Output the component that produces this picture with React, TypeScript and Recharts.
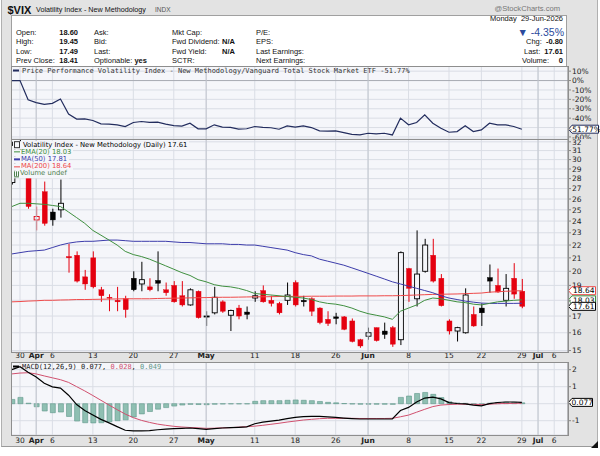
import React from 'react';
import { ComposedChart, Bar, Line, XAxis, YAxis, CartesianGrid, ReferenceLine } from 'recharts';

// trading days shown on the x axis (Mar 27 is clipped at the left edge, the last five are empty future slots)
const days = [
  'Mar 27', 'Mar 30', 'Mar 31', 'Apr 1', 'Apr 2', 'Apr 6', 'Apr 7', 'Apr 8', 'Apr 9', 'Apr 10',
  'Apr 13', 'Apr 14', 'Apr 15', 'Apr 16', 'Apr 17', 'Apr 20', 'Apr 21', 'Apr 22', 'Apr 23', 'Apr 24',
  'Apr 27', 'Apr 28', 'Apr 29', 'Apr 30', 'May 1', 'May 4', 'May 5', 'May 6', 'May 7', 'May 8',
  'May 11', 'May 12', 'May 13', 'May 14', 'May 15', 'May 18', 'May 19', 'May 20', 'May 21', 'May 22',
  'May 26', 'May 27', 'May 28', 'May 29', 'Jun 1', 'Jun 2', 'Jun 3', 'Jun 4', 'Jun 5',
  'Jun 8', 'Jun 9', 'Jun 10', 'Jun 11', 'Jun 12', 'Jun 15', 'Jun 16', 'Jun 17', 'Jun 18',
  'Jun 22', 'Jun 23', 'Jun 24', 'Jun 25', 'Jun 26', 'Jun 29',
  'Jun 30', 'Jul 1', 'Jul 2', 'Jul 6', 'Jul 7',
];
const tickDays = ['Mar 30', 'Apr 1', 'Apr 6', 'Apr 13', 'Apr 20', 'Apr 27', 'May 1', 'May 11', 'May 18', 'May 26', 'Jun 1', 'Jun 8', 'Jun 15', 'Jun 22', 'Jun 29', 'Jul 1', 'Jul 6'];
const tickText = ['30', 'Apr', '6', '13', '20', '27', 'May', '11', '18', '26', 'Jun', '8', '15', '22', '29', 'Jul', '6'];
const monthText = ['Apr', 'May', 'Jun', 'Jul'];

// daily OHLC
const opens = [
  27.6, 31.2, 28.6, 24.1, 26.7, 24.8, 25.0, 21.1, 21.2, 19.6,
  21.0, 18.7, 18.2, 18.0, 18.1, 19.5, 19.1, 18.9, 19.35, 18.7,
  19.0, 18.3, 17.7, 18.6, 16.95, 17.2, 17.9, 17.05, 17.5, 17.25,
  18.15, 18.65, 18.0, 17.8, 18.0, 19.2, 18.0, 18.1, 17.5, 16.8,
  16.95, 16.95, 16.7, 15.6, 15.8, 16.3, 16.1, 16.3, 15.6, 20.2,
  18.1, 20.0, 21.2, 19.5, 16.7, 16.1, 16.0, 17.1, 17.5, 19.55,
  19.0, 18.0, 19.5, 18.6,
];
const highs = [
  32.0, 32.3, 29.4, 25.3, 27.7, 25.1, 27.9, 22.1, 21.5, 20.1,
  21.5, 18.9, 18.4, 18.9, 18.3, 20.0, 20.7, 19.5, 21.5, 19.2,
  19.3, 19.3, 18.8, 18.65, 17.3, 18.9, 18.0, 17.4, 17.7, 17.6,
  18.6, 19.0, 18.3, 17.9, 19.2, 19.35, 18.3, 18.2, 17.55, 17.3,
  17.2, 17.0, 16.85, 15.65, 16.3, 16.3, 16.6, 16.4, 21.5, 20.25,
  23.2, 22.5, 22.5, 19.8, 16.8, 16.35, 18.8, 17.6, 17.8, 20.5,
  20.2, 19.8, 20.6, 19.45,
];
const lows = [
  27.4, 30.4, 25.1, 23.2, 23.6, 23.6, 24.3, 19.9, 19.2, 18.7,
  18.8, 17.9, 17.3, 17.3, 16.9, 18.6, 18.6, 18.6, 18.6, 18.3,
  17.85, 17.6, 17.65, 16.85, 16.4, 17.1, 17.2, 16.1, 16.8, 16.8,
  17.9, 17.85, 17.6, 17.1, 17.7, 17.6, 17.6, 17.0, 16.5, 16.4,
  16.5, 16.15, 15.45, 15.15, 15.6, 15.5, 15.65, 15.2, 15.3, 17.9,
  17.6, 19.9, 19.2, 17.6, 15.9, 15.5, 15.95, 16.35, 16.4, 18.5,
  18.5, 17.6, 18.1, 17.49,
];
const closes = [
  31.6, 31.7, 25.3, 24.4, 23.8, 24.1, 25.6, 21.0, 19.3, 19.1,
  18.9, 18.3, 18.15, 17.9, 17.4, 18.7, 19.4, 18.7, 19.15, 18.5,
  17.9, 17.7, 18.7, 16.9, 17.0, 18.2, 17.3, 17.35, 17.0, 17.1,
  18.3, 17.9, 17.8, 17.2, 18.35, 17.7, 17.9, 17.3, 16.6, 16.55,
  16.85, 16.2, 15.5, 15.25, 16.0, 15.55, 15.9, 15.35, 21.4, 18.8,
  19.8, 22.0, 19.3, 17.65, 16.1, 16.3, 18.35, 16.4, 17.2, 19.3,
  18.55, 18.8, 18.41, 17.61,
];

// overlays
const ema20 = [
  25.3, 25.6, 25.6, 25.55, 25.5, 25.4, 25.3, 24.8, 24.3, 23.8,
  23.2, 22.8, 22.4, 22.0, 21.5, 21.25, 21.1, 20.9, 20.65, 20.4,
  20.15, 19.9, 19.7, 19.4, 19.25, 19.05, 18.95, 18.9, 18.8, 18.65,
  18.45, 18.4, 18.35, 18.3, 18.25, 18.2, 18.15, 18.05, 17.9, 17.8,
  17.75, 17.65, 17.5, 17.3, 17.15, 17.05, 16.95, 16.8, 17.3, 17.5,
  17.7, 18.0, 18.15, 18.1, 18.0, 17.9, 17.85, 17.75, 17.7, 17.8,
  17.9, 17.95, 18.0, 18.03,
];
const ma50 = [
  21.3, 21.4, 21.5, 21.55, 21.6, 21.8, 22.0, 22.15, 22.25, 22.3,
  22.3, 22.35, 22.4, 22.4, 22.35, 22.3, 22.3, 22.3, 22.3, 22.3,
  22.25, 22.2, 22.2, 22.15, 22.1, 22.1, 22.1, 22.05, 22.05, 22.0,
  22.0, 21.9, 21.8, 21.7, 21.6, 21.4, 21.25, 21.15, 20.9, 20.75,
  20.6, 20.45, 20.25, 20.05, 19.85, 19.65, 19.45, 19.25, 19.1, 18.95,
  18.8, 18.65, 18.5, 18.3, 18.15, 18.05, 17.95, 17.88, 17.82, 17.8,
  17.8, 17.8, 17.8, 17.81,
];
const ma200 = [
  17.9, 17.92, 17.95, 17.97, 18.0, 18.0, 18.02, 18.03, 18.05, 18.05,
  18.06, 18.07, 18.08, 18.09, 18.1, 18.1, 18.1, 18.1, 18.12, 18.13,
  18.14, 18.15, 18.16, 18.17, 18.18, 18.19, 18.2, 18.2, 18.21, 18.22,
  18.23, 18.23, 18.24, 18.25, 18.25, 18.26, 18.26, 18.27, 18.27, 18.27,
  18.28, 18.28, 18.28, 18.29, 18.29, 18.29, 18.3, 18.3, 18.31, 18.33,
  18.35, 18.37, 18.39, 18.4, 18.41, 18.42, 18.44, 18.46, 18.48, 18.54,
  18.57, 18.6, 18.62, 18.64,
];

// price performance vs VTI, %
const perf = [
  0, 0, -20.4, -23.4, -25.3, -24.2, -19.6, -35.7, -41.0, -40.8,
  -42.5, -46.1, -46.4, -47.1, -48.9, -44.6, -43.6, -44.6, -44.3, -46.4,
  -47.9, -48.5, -45.4, -51.4, -51.4, -47.1, -49.6, -49.8, -51.6, -51.3,
  -48.9, -49.8, -50.2, -51.8, -48.2, -49.6, -48.2, -50.0, -53.6, -53.8,
  -53.5, -55.4, -57.2, -57.9, -56.1, -56.8, -56.1, -57.9, -40.0, -47.1,
  -44.6, -36.4, -45.4, -50.7, -55.0, -54.3, -48.2, -54.3, -52.5, -45.4,
  -47.1, -47.1, -48.9, -51.77,
];

// MACD(12,26,9)
const macd = [
  2.0, 2.17, 1.85, 1.57, 1.2, 0.99, 0.92, 0.5, -0.05, -0.4,
  -0.66, -0.92, -1.13, -1.35, -1.56, -1.6, -1.6, -1.58, -1.53, -1.5,
  -1.47, -1.45, -1.43, -1.47, -1.51, -1.46, -1.43, -1.41, -1.39, -1.36,
  -1.18, -1.08, -1.03, -0.97, -0.88, -0.8, -0.76, -0.74, -0.75, -0.78,
  -0.81, -0.85, -0.88, -0.9, -0.9, -0.9, -0.9, -0.9, -0.4, -0.22,
  0.1, 0.33, 0.38, 0.28, 0.06, 0.01, -0.01, -0.08, -0.13, 0.0,
  0.07, 0.1, 0.1, 0.077,
];
const signal = [
  1.75, 1.8, 1.82, 1.75, 1.63, 1.52, 1.41, 1.25, 1.0, 0.75,
  0.48, 0.2, -0.08, -0.35, -0.61, -0.82, -0.98, -1.1, -1.2, -1.27,
  -1.33, -1.37, -1.4, -1.42, -1.45, -1.44, -1.42, -1.41, -1.38, -1.35,
  -1.32, -1.27, -1.21, -1.15, -1.08, -1.02, -0.96, -0.92, -0.88, -0.86,
  -0.86, -0.86, -0.86, -0.87, -0.87, -0.87, -0.87, -0.86, -0.77, -0.67,
  -0.5, -0.33, -0.17, -0.08, -0.05, -0.03, -0.03, -0.04, -0.05, -0.03,
  0.0, 0.01, 0.02, 0.028,
];
const hist = [
  0.25, 0.37, 0.03, -0.18, -0.43, -0.53, -0.49, -0.75, -1.02, -1.12,
  -1.13, -1.12, -1.06, -1.0, -0.95, -0.78, -0.6, -0.46, -0.32, -0.23,
  -0.14, -0.08, -0.04, -0.05, -0.06, -0.03, -0.02, -0.01, -0.01, -0.01,
  0.14, 0.18, 0.18, 0.18, 0.2, 0.22, 0.2, 0.18, 0.13, 0.08,
  0.05, 0.01, -0.02, -0.03, -0.03, -0.03, -0.03, -0.04, 0.37, 0.45,
  0.6, 0.66, 0.55, 0.36, 0.11, 0.04, 0.02, -0.04, -0.08, 0.03,
  0.07, 0.09, 0.08, 0.049,
];

const rows = days.map((day, k) => {
  const has = k < closes.length;
  return {
    i: k - 1,
    day,
    range: has ? [lows[k], highs[k]] : undefined,
    o: has ? opens[k] : undefined,
    h: has ? highs[k] : undefined,
    l: has ? lows[k] : undefined,
    c: has ? closes[k] : undefined,
    pc: has ? (k > 0 ? closes[k - 1] : opens[k]) : undefined,
    ema: ema20[k],
    ma50: ma50[k],
    ma200: ma200[k],
    perf: perf[k],
    macd: macd[k],
    signal: signal[k],
    hist: hist[k],
  };
});

const last = closes.length - 1;
const tickIdx = tickDays.map((d) => days.indexOf(d) - 1);
const monthIdx = tickIdx.filter((_, k) => monthText.includes(tickText[k]));
const X_DOMAIN = [-1.05, 67.7];

const FRAME = '#e3e3e3';
const PLOT_BG = '#f5f6fa';
const GRID = '#dadde5';
const GRID_DARK = '#c2c6ce';
const RED = '#e4000f';
const EMA_C = '#3f8f3f';
const MA50_C = '#3c3caa';
const MA200_C = '#ef4a4a';
const PERF_C = '#232d5e';
const SIG_C = '#d0506e';
const HIST_C = '#8fbfb2';
const SANS = '"Liberation Sans", Arial, sans-serif';
const AXIS_FONT = '"DejaVu Sans", Verdana, sans-serif';
const MONO = '"DejaVu Sans Mono", monospace';

const PL = 11.5;
const YW = 32;

const Candle = (props: any) => {
  const { x, y, width, height, payload } = props;
  if (!payload || payload.o == null || !isFinite(y) || !isFinite(height)) return null;
  const { o, h, l, c, pc } = payload;
  const top = Math.min(y, y + height);
  const span = Math.abs(height);
  const lh = Math.log(h);
  const ll = Math.log(l);
  const py = (v: number) => top + (span * (lh - Math.log(v))) / (lh - ll || 1);
  const cx = x + width / 2;
  const color = c >= pc ? '#000' : RED;
  const hollow = c > o;
  const bTop = py(Math.max(o, c));
  const bBot = py(Math.min(o, c));
  const bw = 5;
  return (
    <g>
      <line x1={cx} x2={cx} y1={top} y2={top + span} stroke={color} strokeWidth={1} />
      <rect
        x={cx - bw / 2}
        y={bTop}
        width={bw}
        height={Math.max(bBot - bTop, 0.9)}
        fill={hollow ? PLOT_BG : color}
        stroke={color}
        strokeWidth={hollow ? 0.9 : 0.4}
      />
    </g>
  );
};

const Tag = (props: any) => {
  const { viewBox, text, color } = props;
  if (!viewBox) return null;
  const x0 = viewBox.x + viewBox.width + 0.5;
  const yc = viewBox.y;
  const w = props.w || 27;
  return (
    <g>
      <path
        d={`M${x0},${yc} L${x0 + 3.5},${yc - 4} L${x0 + w},${yc - 4} L${x0 + w},${yc + 4} L${x0 + 3.5},${yc + 4} Z`}
        fill="#fff"
        stroke={color}
        strokeWidth={1}
      />
      <text x={x0 + 3.5 + (w - 3.5) / 2} y={yc + 2.7} textAnchor="middle" fontSize={7.5} fontFamily={AXIS_FONT} fill="#000">
        {text}
      </text>
    </g>
  );
};

const makeXTick = (dy: number) => (props: any) => {
  const { x, y, payload } = props;
  const k = tickIdx.indexOf(payload.value);
  const label = tickText[k];
  return (
    <text
      x={x}
      y={y + dy}
      textAnchor="middle"
      fontSize={7.5}
      fontFamily={AXIS_FONT}
      fontWeight={monthText.includes(label) ? 'bold' : 'normal'}
      fill="#222"
    >
      {label}
    </text>
  );
};

// tick labels that sit under a value tag are not drawn (as in the reference)
const makeYTick = (fmt: (v: number) => string, covered: number[] = []) => (props: any) => {
  const { x, y, payload } = props;
  if (covered.includes(payload.value)) return null;
  return (
    <text x={x} y={y + 2.7} fontSize={7.5} fontFamily={AXIS_FONT} fill="#222">
      {fmt(payload.value)}
    </text>
  );
};

const T = ({ x, y, children, size = 7.5, bold = false, color = '#111', right = false, font = SANS }: any) => (
  <div
    style={{
      position: 'absolute',
      top: y,
      left: right ? undefined : x,
      right: right ? 600 - x : undefined,
      transform: 'translateY(-50%)',
      fontSize: size,
      lineHeight: 1,
      fontWeight: bold ? 'bold' : 'normal',
      color,
      fontFamily: font,
      whiteSpace: 'nowrap',
    }}
  >
    {children}
  </div>
);

const Box = ({ x, y, w, h, bg }: any) => (
  <div
    style={{
      position: 'absolute',
      left: x,
      top: y,
      width: w,
      height: h,
      border: '1px solid #8e8e8e',
      boxSizing: 'border-box',
      background: bg,
      pointerEvents: 'none',
    }}
  />
);

const LegendRow = ({ y, children, x = 13 }: any) => (
  <div
    style={{
      position: 'absolute',
      left: x,
      top: y,
      transform: 'translateY(-50%)',
      background: PLOT_BG,
      padding: '0 2px 0 1px',
      fontSize: 6.8,
      lineHeight: '7.3px',
      fontFamily: AXIS_FONT,
      whiteSpace: 'nowrap',
    }}
  >
    {children}
  </div>
);

const Dash = ({ color }: any) => (
  <span style={{ display: 'inline-block', width: 6, height: 1.4, background: color, verticalAlign: 'middle', marginRight: 1 }} />
);

const xAxisCommon = {
  type: 'number' as const,
  dataKey: 'i',
  domain: X_DOMAIN,
  ticks: tickIdx,
  allowDataOverflow: true,
  interval: 0 as const,
};

const mainTicks = [15, 16, 17, 18, 19, 20, 21, 22, 23, 24, 25, 26, 27, 28, 29, 30, 31, 32];
const perfTicks = [10, 0, -10, -20, -30, -40, -50, -60];
const macdTicks = [-1, 0, 1, 2];

export default function App() {
  return (
    <div style={{ position: 'relative', width: 600, height: 456, background: '#fff', overflow: 'hidden' }}>
      <style>{'body{margin:0}'}</style>
      <div style={{ position: 'absolute', left: 1, top: 0, width: 597, height: 447, background: FRAME, borderLeft: '1px solid #b0b0b0', borderRight: '1px solid #b0b0b0', borderBottom: '1px solid #9a9a9a', boxSizing: 'border-box' }} />

      {/* title line */}
      <T x={7.5} y={9.5} size={11} bold>$VIX</T>
      <T x={36} y={10} size={7.2}>Volatility Index - New Methodology</T>
      <T x={155} y={10} size={6.5} color="#555">INDX</T>
      <T x={560} y={9} size={7.6} color="#777" right>@StockCharts.com</T>

      {/* info box */}
      <div style={{ position: 'absolute', left: 11, top: 15, width: 556, height: 52, background: '#fff', border: '1px solid #a0a0a0', boxSizing: 'border-box' }} />
      <T x={563} y={19} size={7.5} right>Monday&nbsp; 29-Jun-2026</T>
      <T x={16} y={32.5}>Open:</T>
      <T x={16} y={42}>High:</T>
      <T x={16} y={51.5}>Low:</T>
      <T x={16} y={61}>Prev Close:</T>
      <T x={78} y={32.5} bold right>{opens[last].toFixed(2)}</T>
      <T x={78} y={42} bold right>{highs[last].toFixed(2)}</T>
      <T x={78} y={51.5} bold right>{lows[last].toFixed(2)}</T>
      <T x={78} y={61} bold right>{closes[last - 1].toFixed(2)}</T>
      <T x={94} y={32.5}>Ask:</T>
      <T x={94} y={42}>Bid:</T>
      <T x={94} y={51.5}>Last:</T>
      <T x={94} y={61}>Optionable: <b>yes</b></T>
      <T x={172} y={32.5}>Mkt Cap:</T>
      <T x={172} y={42}>Fwd Dividend:</T>
      <T x={172} y={51.5}>Fwd Yield:</T>
      <T x={172} y={61}>SCTR:</T>
      <T x={235} y={42} bold right>N/A</T>
      <T x={235} y={51.5} bold right>N/A</T>
      <T x={256} y={32.5}>P/E:</T>
      <T x={256} y={42}>EPS:</T>
      <T x={256} y={51.5}>Last Earnings:</T>
      <T x={256} y={61}>Next Earnings:</T>
      <T x={564} y={32} size={10.5} color="#2b4b9c" right>▼ -4.35%</T>
      <T x={526} y={42}>Chg:</T>
      <T x={563} y={42} bold right>-0.80</T>
      <T x={524} y={51.5}>Last:</T>
      <T x={563} y={51.5} bold right>{closes[last].toFixed(2)}</T>
      <T x={522} y={61}>Volume:</T>
      <T x={563} y={61} bold right>0</T>

      {/* price performance panel */}
      <div style={{ position: 'absolute', left: 0, top: 66 }}>
        <ComposedChart width={600} height={73} data={rows} margin={{ top: 0, right: 0, bottom: 0, left: PL }}>
          <CartesianGrid stroke={GRID} fill={PLOT_BG} />
          <XAxis {...xAxisCommon} hide />
          <YAxis
            orientation="right"
            width={YW}
            domain={[-62.2, 15.5]}
            ticks={perfTicks}
            allowDataOverflow
            interval={0}
            tickSize={3}
            tickMargin={1}
            stroke="#888"
            tick={makeYTick((v) => `${v}%`, [-50])}
          />
          <ReferenceLine y={0} stroke="#a8acb4" />
          {monthIdx.map((m) => (
            <ReferenceLine key={m} x={m} stroke={GRID_DARK} />
          ))}
          <Line dataKey="perf" stroke={PERF_C} strokeWidth={1.2} dot={false} isAnimationActive={false} />
          <ReferenceLine y={perf[last]} stroke="none" label={<Tag text={`${perf[last].toFixed(2)}%`} color={PERF_C} w={30} />} />
        </ComposedChart>
      </div>
      <Box x={11} y={66} w={558} h={74} />
      <div
        style={{ position: 'absolute', left: 13, top: 70.5, transform: 'translateY(-50%)', fontFamily: MONO, fontSize: 7, lineHeight: 1, whiteSpace: 'nowrap', color: '#333' }}
      >
        <span style={{ display: 'inline-block', width: 6, height: 2, background: PERF_C, verticalAlign: 'middle', marginRight: 3 }} />
        Price Performance Volatility Index - New Methodology/Vanguard Total Stock Market ETF {perf[last].toFixed(2)}%
      </div>

      {/* main price panel */}
      <div style={{ position: 'absolute', left: 0, top: 139 }}>
        <ComposedChart width={600} height={227} data={rows} margin={{ top: 0, right: 0, bottom: 0, left: PL }}>
          <CartesianGrid stroke={GRID} fill={PLOT_BG} />
          <XAxis {...xAxisCommon} height={14} tickSize={0} tickMargin={0} axisLine={false} tick={makeXTick(6.3)} />
          <YAxis
            orientation="right"
            width={YW}
            scale="log"
            domain={[14.92, 32.33]}
            ticks={mainTicks}
            allowDataOverflow
            interval={0}
            tickSize={3}
            tickMargin={1}
            stroke="#888"
            tick={makeYTick((v) => `${v}`, [18])}
          />
          {monthIdx.map((m) => (
            <ReferenceLine key={m} x={m} stroke={GRID_DARK} />
          ))}
          <Line dataKey="ma200" stroke={MA200_C} strokeWidth={1} dot={false} isAnimationActive={false} />
          <Line dataKey="ma50" stroke={MA50_C} strokeWidth={1} dot={false} isAnimationActive={false} />
          <Line dataKey="ema" stroke={EMA_C} strokeWidth={1} dot={false} isAnimationActive={false} />
          <Bar dataKey="range" shape={Candle} barSize={5} isAnimationActive={false} />
          <ReferenceLine y={ma200[last]} stroke="none" label={<Tag text={ma200[last].toFixed(2)} color={MA200_C} />} />
          <ReferenceLine y={ema20[last]} stroke="none" label={<Tag text={ema20[last].toFixed(2)} color={EMA_C} />} />
          <ReferenceLine y={closes[last]} stroke="none" label={<Tag text={closes[last].toFixed(2)} color="#000" />} />
        </ComposedChart>
      </div>
      <Box x={11} y={139} w={558} h={214} />
      <LegendRow y={145}>
        <span style={{ display: 'inline-block', width: 4, height: 5, border: '1px solid #333', marginRight: 3, verticalAlign: 'middle' }} />
        Volatility Index - New Methodology (Daily) {closes[last].toFixed(2)}
      </LegendRow>
      <LegendRow y={152.5}>
        <span style={{ color: EMA_C }}><Dash color={EMA_C} />EMA(20) {ema20[last].toFixed(2)}</span>
      </LegendRow>
      <LegendRow y={159.8}>
        <span style={{ color: MA50_C }}><Dash color={MA50_C} />MA(50) {ma50[last].toFixed(2)}</span>
      </LegendRow>
      <LegendRow y={167.1}>
        <span style={{ color: MA200_C }}><Dash color={MA200_C} />MA(200) {ma200[last].toFixed(2)}</span>
      </LegendRow>
      <LegendRow y={174.4}>
        <span style={{ color: '#4d7f4d' }}>
          <span style={{ display: 'inline-block', width: 5, height: 5, borderBottom: '1px solid #4d7f4d', background: 'linear-gradient(90deg,#4d7f4d 0 1px,transparent 1px 2px,#4d7f4d 2px 3px,transparent 3px 4px,#4d7f4d 4px 5px)', marginRight: 1, verticalAlign: 'middle' }} />
          Volume undef
        </span>
      </LegendRow>

      {/* MACD panel */}
      <div style={{ position: 'absolute', left: 0, top: 362 }}>
        <ComposedChart width={600} height={87} data={rows} margin={{ top: 0, right: 0, bottom: 0, left: PL }}>
          <CartesianGrid stroke={GRID} fill={PLOT_BG} />
          <XAxis {...xAxisCommon} height={14} tickSize={0} tickMargin={0} axisLine={false} tick={makeXTick(7.5)} />
          <YAxis
            orientation="right"
            width={YW}
            domain={[-1.84, 2.45]}
            ticks={macdTicks}
            allowDataOverflow
            interval={0}
            tickSize={3}
            tickMargin={1}
            stroke="#888"
            tick={makeYTick((v) => `${v}`, [0])}
          />
          {monthIdx.map((m) => (
            <ReferenceLine key={m} x={m} stroke={GRID_DARK} />
          ))}
          <Bar dataKey="hist" fill={HIST_C} stroke="#5e978a" strokeWidth={0.6} barSize={5} isAnimationActive={false} />
          <Line dataKey="signal" stroke={SIG_C} strokeWidth={1} dot={false} isAnimationActive={false} />
          <Line dataKey="macd" stroke="#000" strokeWidth={1.2} dot={false} isAnimationActive={false} />
          <ReferenceLine y={macd[last]} stroke="none" label={<Tag text={macd[last].toFixed(3)} color="#000" w={24} />} />
        </ComposedChart>
      </div>
      <Box x={11} y={362} w={558} h={74} />
      <div
        style={{ position: 'absolute', left: 13, top: 367, transform: 'translateY(-50%)', fontFamily: MONO, fontSize: 7, lineHeight: 1, whiteSpace: 'nowrap', color: '#222' }}
      >
        <span style={{ display: 'inline-block', width: 6, height: 2, background: '#000', verticalAlign: 'middle', marginRight: 3 }} />
        MACD(12,26,9) {macd[last].toFixed(3)}, <span style={{ color: SIG_C }}>{signal[last].toFixed(3)}</span>, <span style={{ color: '#5e978a' }}>{hist[last].toFixed(3)}</span>
      </div>
      <div style={{ position: 'absolute', left: 591, top: 441, width: 0, height: 0, borderLeft: '7px solid transparent', borderBottom: '7px solid #111' }} />
    </div>
  );
}
